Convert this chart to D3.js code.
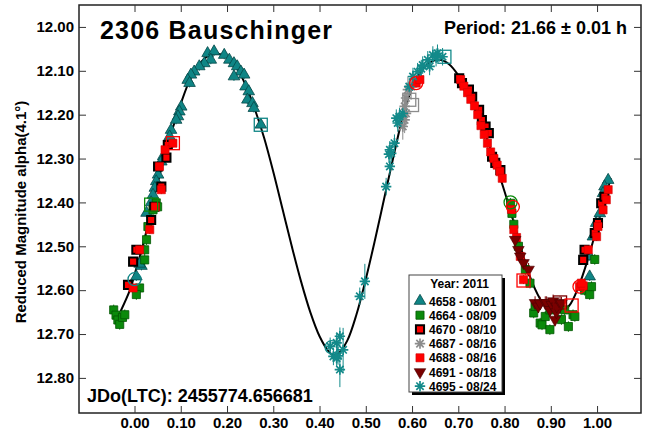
<!DOCTYPE html>
<html><head><meta charset="utf-8">
<script src="https://cdn.jsdelivr.net/npm/d3@7"></script>
<style>
html,body{margin:0;padding:0;background:#fff;}
text{font-family:"Liberation Sans",Arial,sans-serif;font-weight:bold;fill:#000;}
</style></head>
<body><svg id="c" width="647" height="434"></svg>
<script>
// ---- data ----
const chartTitle = "2306 Bauschinger";
const periodText = "Period: 21.66 \u00b1 0.01 h";
const jdText = "JDo(LTC): 2455774.656681";
const yTitle = "Reduced Magnitude alpha(4.1\u00b0)";
const legendTitle = "Year: 2011";
const xTicks = [0,0.1,0.2,0.3,0.4,0.5,0.6,0.7,0.8,0.9,1.0];
const yTicks = [12.0,12.1,12.2,12.3,12.4,12.5,12.6,12.7,12.8];
const seriesNames = ["4658 - 08/01","4664 - 08/09","4670 - 08/10","4687 - 08/16","4688 - 08/16","4691 - 08/18","4695 - 08/24"];
const seriesErr = [0.010,0.012,0.010,0.030,0.010,0.015,0.020];

// [phase, mag, (optional err)]
const s4658 = [[0.158,12.060],[0.172,12.056],[0.194,12.064],[0.205,12.075],[0.215,12.083],[0.222,12.090],[0.230,12.102],[0.237,12.109],[0.215,12.113],[0.165,12.075],[0.151,12.083],[0.140,12.090],[0.129,12.102],[0.122,12.109],[0.115,12.121],[0.119,12.128],[0.240,12.136],[0.247,12.147],[0.244,12.166],[0.255,12.174],[0.258,12.185],[0.273,12.223],[0.101,12.182],[0.097,12.193],[0.094,12.204],[0.090,12.212],[0.079,12.235],[0.076,12.250],[0.062,12.295],[0.058,12.307],[0.051,12.337],[0.047,12.352],[0.044,12.367],[0.040,12.383],[0.036,12.400],[0.026,12.424],[0.015,12.545],[0.004,12.569],[0.011,12.540],[1.024,12.349],[1.016,12.364],[1.013,12.379],[1.006,12.425],[0.998,12.447],[0.991,12.478],[0.984,12.523],[0.984,12.569]];
const s4664 = [[-0.045,12.645],[-0.040,12.657],[-0.036,12.668],[-0.032,12.678],[-0.026,12.662],[-0.021,12.656],[0.011,12.595],[0.004,12.610],[0.022,12.531],[0.022,12.508],[0.026,12.485],[0.029,12.455],[0.040,12.417],[0.047,12.401],[0.050,12.410],[0.813,12.402],[0.816,12.425],[0.820,12.450],[0.830,12.500],[0.845,12.553],[0.855,12.584],[0.863,12.652],[0.866,12.637],[0.877,12.675],[0.881,12.679],[0.888,12.660],[0.898,12.690],[0.898,12.645],[0.923,12.667],[0.930,12.645],[0.938,12.683],[0.948,12.656],[0.952,12.660],[0.973,12.600],[0.984,12.610],[0.988,12.592],[0.995,12.530]];
const s4670 = [[0.004,12.508],[-0.003,12.535],[-0.014,12.588],[0.036,12.440],[0.043,12.410],[0.051,12.318],[0.069,12.298],[0.072,12.269],[0.058,12.364],[0.702,12.117],[0.708,12.128],[0.723,12.143],[0.730,12.159],[0.745,12.189],[0.751,12.212],[0.759,12.227],[0.766,12.242],[0.773,12.296],[0.780,12.310],[0.791,12.326],[0.973,12.508],[0.970,12.531],[1.009,12.402],[1.016,12.387],[1.002,12.447],[0.995,12.470]];
const s4687 = [[0.587,12.162],[0.584,12.181],[0.587,12.197],[0.584,12.212],[0.580,12.227],[0.591,12.143],[0.598,12.136]];
const s4688 = [[-0.003,12.595],[0.033,12.462],[0.045,12.410],[0.011,12.508],[0.083,12.265],[0.054,12.318],[0.058,12.371],[0.066,12.280],[0.609,12.128],[0.617,12.120],[0.705,12.120],[0.712,12.135],[0.720,12.150],[0.727,12.165],[0.735,12.180],[0.742,12.200],[0.749,12.225],[0.756,12.245],[0.763,12.265],[0.770,12.285],[0.777,12.300],[0.784,12.315],[0.790,12.330],[0.795,12.345],[0.815,12.416],[0.820,12.462],[0.826,12.480],[0.834,12.523],[0.841,12.576],[0.962,12.592],[0.970,12.590],[0.981,12.508],[0.999,12.478],[1.002,12.455],[1.013,12.417],[1.020,12.394],[1.024,12.371],[0.966,12.584]];
const s4691 = [[0.823,12.485],[0.830,12.508],[0.834,12.523],[0.841,12.538],[0.852,12.553],[0.866,12.629],[0.873,12.637],[0.877,12.630],[0.888,12.629],[0.891,12.629],[0.898,12.645],[0.902,12.633],[0.905,12.625],[0.909,12.667],[0.912,12.650],[0.913,12.637],[0.920,12.629],[0.923,12.630]];
const s4695 = [[0.423,12.728],[0.430,12.751],[0.437,12.720],[0.440,12.750],[0.444,12.705],[0.444,12.781,0.04],[0.451,12.736,0.05],[0.437,12.755],[0.487,12.614],[0.498,12.580,0.04],[0.544,12.364],[0.552,12.318],[0.552,12.280],[0.555,12.288],[0.550,12.290],[0.562,12.265],[0.566,12.208],[0.569,12.219],[0.573,12.204],[0.580,12.197],[0.594,12.136],[0.602,12.113],[0.612,12.102],[0.620,12.095],[0.623,12.087],[0.634,12.075],[0.638,12.090],[0.645,12.064],[0.652,12.070],[0.655,12.060],[0.666,12.068]];

// session start / end markers: [phase, mag, kind, seriesIndex]
const openMarks = [[0.273,12.223,"square",0],[0.000,12.575,"circle",0],[0.083,12.265,"square",4],[0.036,12.405,"square",1],[0.594,12.166,"square",3],[0.600,12.178,"square",3],[0.609,12.128,"circle",4],[0.670,12.068,"square",6],[0.426,12.730,"circle",6],[0.813,12.400,"circle",1],[0.818,12.410,"circle",4],[0.841,12.578,"square",4],[0.920,12.628,"square",5],[0.945,12.635,"square",4],[0.962,12.592,"circle",4]];

// fitted curve: [phase, mag]
const fitCurve = [[-0.03,12.648],[-0.01,12.600],[0.00,12.565],[0.02,12.490],[0.04,12.400],[0.06,12.315],[0.08,12.240],[0.10,12.175],[0.12,12.120],[0.14,12.085],[0.16,12.066],[0.18,12.061],[0.20,12.069],[0.22,12.092],[0.24,12.132],[0.26,12.187],[0.28,12.252],[0.30,12.330],[0.32,12.415],[0.34,12.500],[0.36,12.580],[0.38,12.650],[0.40,12.705],[0.42,12.740],[0.43,12.748],[0.44,12.745],[0.46,12.715],[0.48,12.655],[0.50,12.575],[0.52,12.485],[0.54,12.390],[0.56,12.295],[0.58,12.205],[0.60,12.140],[0.62,12.100],[0.64,12.080],[0.66,12.075],[0.68,12.085],[0.70,12.110],[0.72,12.145],[0.74,12.192],[0.76,12.248],[0.78,12.310],[0.80,12.375],[0.82,12.445],[0.84,12.520],[0.86,12.583],[0.88,12.625],[0.90,12.645],[0.92,12.650],[0.94,12.635],[0.96,12.592],[0.98,12.530],[1.00,12.455],[1.02,12.380],[1.03,12.345]];

// ---- drawing ----
const W=647,H=434, L=79,R=641,T=5,B=413;
const svg=d3.select("#c");
const x=d3.scaleLinear().domain([-0.12,1.095]).range([L,R]);
const y=d3.scaleLinear().domain([11.95,12.88]).range([T,B]);

const styles=[
 {shape:"tri", fill:"#0f8585", stroke:"#064848", sw:0.8, color:"#0f8585"},
 {shape:"sq", fill:"#0b8a0b", stroke:"#035503", sw:0.8, color:"#0b8a0b"},
 {shape:"sq", fill:"#ff0000", stroke:"#000", sw:2, color:"#000"},
 {shape:"ast", fill:"none", stroke:"#8c8c8c", sw:1.7, color:"#8c8c8c"},
 {shape:"sq", fill:"#ff0000", stroke:"#d00000", sw:0.6, color:"#ff0000"},
 {shape:"dtri", fill:"#7a0000", stroke:"#4a0000", sw:0.6, color:"#7a0000"},
 {shape:"ast", fill:"none", stroke:"#138a8a", sw:1.7, color:"#138a8a"}
];
const allSeries=[s4658,s4664,s4670,s4687,s4688,s4691,s4695];

function astPath(r){
  let p="";
  for(let k=0;k<4;k++){const a=k*Math.PI/4;const dx=r*Math.cos(a),dy=r*Math.sin(a);
    p+=`M${-dx},${-dy}L${dx},${dy}`;}
  return p;
}
function markerPath(shape){
  if(shape==="tri"||shape==="dtri") return d3.symbol().type(d3.symbolTriangle).size(58)();
  if(shape==="sq") return d3.symbol().type(d3.symbolSquare).size(66)();
  return astPath(5.2);
}
function drawMarker(g,shape,st,cx,cy){
  return g.append("path").attr("d",markerPath(shape))
    .attr("transform",`translate(${cx},${cy})`+(shape==="dtri"?" rotate(180)":""))
    .attr("fill",st.fill).attr("stroke",st.stroke).attr("stroke-width",st.sw);
}

// frame
svg.append("rect").attr("x",L).attr("y",T).attr("width",R-L).attr("height",B-T)
  .attr("fill","#fff").attr("stroke","#222").attr("stroke-width",1.5);

// axes
const tk=7;
const gl=svg.append("g").attr("transform",`translate(${L},0)`)
  .call(d3.axisLeft(y).tickValues(yTicks).tickSizeInner(-tk).tickSizeOuter(0).tickPadding(5).tickFormat(d3.format(".2f")));
const gr=svg.append("g").attr("transform",`translate(${R},0)`)
  .call(d3.axisRight(y).tickValues(yTicks).tickSizeInner(-tk).tickSizeOuter(0).tickFormat(""));
const gb=svg.append("g").attr("transform",`translate(0,${B})`)
  .call(d3.axisBottom(x).tickValues(xTicks).tickSizeInner(-tk).tickSizeOuter(0).tickPadding(4).tickFormat(d3.format(".2f")));
const gt=svg.append("g").attr("transform",`translate(0,${T})`)
  .call(d3.axisTop(x).tickValues(xTicks).tickSizeInner(-tk).tickSizeOuter(0).tickFormat(""));
[gl,gr,gb,gt].forEach(g=>{g.select(".domain").remove();
  g.selectAll(".tick line").attr("stroke","#333").attr("stroke-width",1);
  g.selectAll("text").attr("font-size",15).attr("font-family","Liberation Sans, Arial, sans-serif").attr("font-weight","bold").attr("fill","#000");});

// fit curve
svg.append("path").datum(fitCurve)
  .attr("d",d3.line().x(d=>x(d[0])).y(d=>y(d[1])).curve(d3.curveCatmullRom))
  .attr("fill","none").attr("stroke","#000").attr("stroke-width",2);

// error bars + points
const pg=svg.append("g");
allSeries.forEach((s,i)=>{
  const st=styles[i];
  s.forEach(d=>{
    const e=d[2]!==undefined?d[2]:seriesErr[i];
    pg.append("line").attr("x1",x(d[0])).attr("x2",x(d[0])).attr("y1",y(d[1]-e)).attr("y2",y(d[1]+e))
      .attr("stroke",st.color).attr("stroke-width",1);
  });
});
allSeries.forEach((s,i)=>{
  const st=styles[i];
  s.forEach(d=>drawMarker(pg,st.shape,st,x(d[0]),y(d[1])));
});
// open session markers
openMarks.forEach(m=>{
  const st=styles[m[3]];
  const c=(st.shape==="ast")?st.stroke:(m[3]===2?"#000":st.fill);
  if(m[2]==="circle") pg.append("circle").attr("cx",x(m[0])).attr("cy",y(m[1])).attr("r",6.5)
      .attr("fill","none").attr("stroke",c).attr("stroke-width",1.3);
  else pg.append("rect").attr("x",x(m[0])-6.5).attr("y",y(m[1])-6.5).attr("width",13).attr("height",13)
      .attr("fill","none").attr("stroke",c).attr("stroke-width",1.3);
});

// texts
svg.append("text").attr("x",100).attr("y",39).attr("font-size",25).style("letter-spacing","1.2px").text(chartTitle);
svg.append("text").attr("x",627).attr("y",34).attr("text-anchor","end").attr("font-size",18).text(periodText);
svg.append("text").attr("x",87).attr("y",402).attr("font-size",18).text(jdText);
svg.append("text").attr("transform","translate(26,212) rotate(-90)").attr("text-anchor","middle").attr("font-size",15).text(yTitle);

// legend
const lx=409, ly=275, lw=93, lh=117;
svg.append("rect").attr("x",lx+3).attr("y",ly+3).attr("width",lw).attr("height",lh).attr("fill","#000");
svg.append("rect").attr("x",lx).attr("y",ly).attr("width",lw).attr("height",lh).attr("fill","#fff").attr("stroke","#444").attr("stroke-width",1);
svg.append("text").attr("x",lx+lw/2+4).attr("y",ly+13).attr("text-anchor","middle").attr("font-size",12).text(legendTitle);
seriesNames.forEach((n,i)=>{
  const ry=ly+26+i*14.2;
  drawMarker(svg,styles[i].shape,styles[i],lx+11,ry);
  svg.append("text").attr("x",lx+20).attr("y",ry+4.5).attr("font-size",12).text(n);
});
</script></body></html>
